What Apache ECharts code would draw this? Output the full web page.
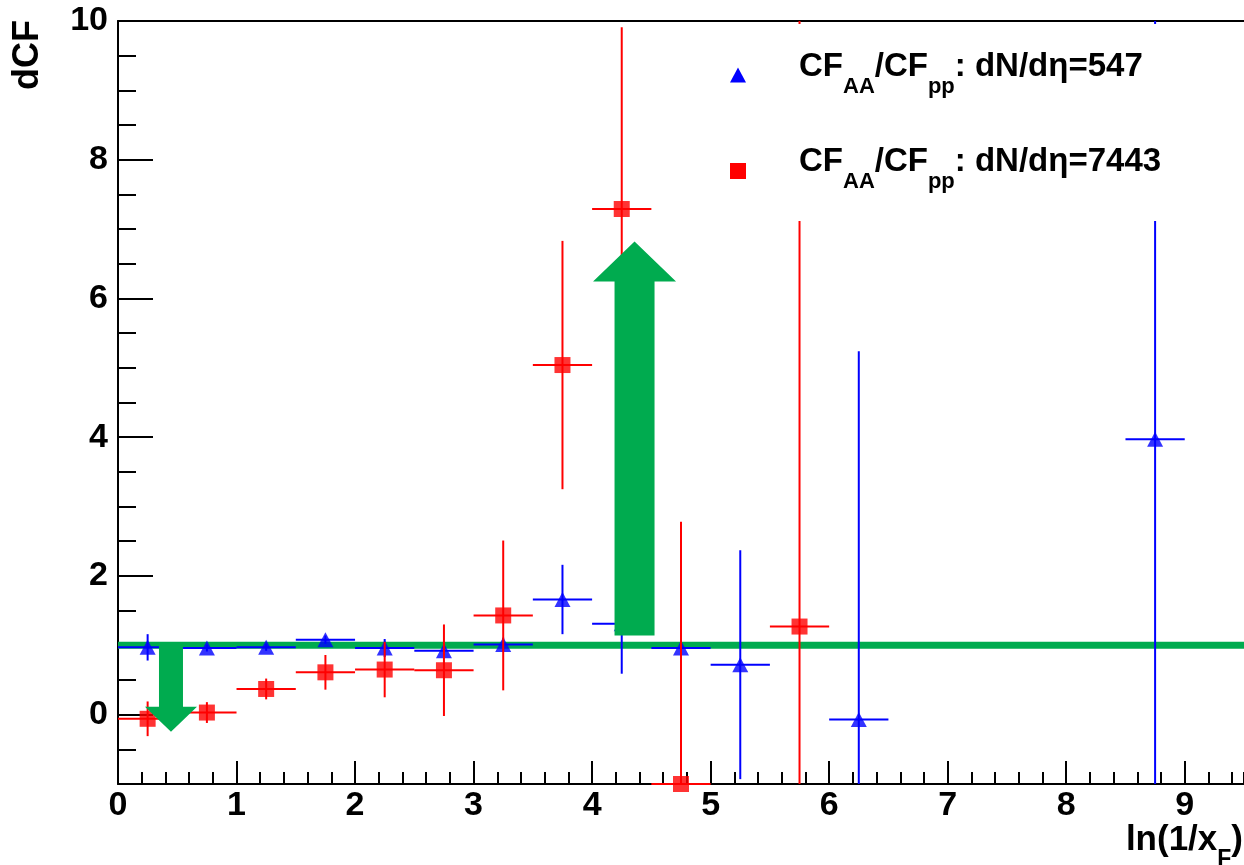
<!DOCTYPE html>
<html>
<head>
<meta charset="utf-8">
<script src="https://cdn.jsdelivr.net/npm/echarts@6/dist/echarts.min.js"></script>
<style>
  html, body { margin: 0; padding: 0; background: #ffffff; }
  #chart { width: 1244px; height: 865px; }
</style>
</head>
<body>
<div id="chart"></div>
<script>
// ---- data: double ratio of correlation functions vs ln(1/x_F) ----
const binHalfWidth = 0.25;

// CF_AA/CF_pp, dN/deta = 547
const xBlue   = [0.25, 0.75, 1.25, 1.75, 2.25, 2.75, 3.25, 3.75, 4.25, 4.75, 5.25, 6.25, 8.75];
const yBlue   = [0.97, 0.96, 0.97, 1.08, 0.96, 0.92, 1.01, 1.66, 1.31, 0.96, 0.72, -0.07, 3.97];
const errBlue = [0.19, 0.05, 0.05, 0.06, 0.13, 0.08, 0.10, 0.50, 0.72, 1.03, 1.65, 5.31, 7.00];

// CF_AA/CF_pp, dN/deta = 7443
const xRed   = [0.25, 0.75, 1.25, 1.75, 2.25, 2.75, 3.25, 3.75, 4.25, 4.75, 5.75];
const yRed   = [-0.06, 0.03, 0.37, 0.61, 0.65, 0.64, 1.43, 5.04, 7.29, -1.00, 1.27];
const errRed = [0.25, 0.15, 0.15, 0.25, 0.40, 0.66, 1.08, 1.79, 2.62, 3.78, 12.0];

// unit reference level
const referenceLevel = 1;

// trend arrows: x position, start value, tip value
const arrowX    = [0.447, 4.358];
const arrowFrom = [1.04, 1.14];
const arrowTo   = [-0.245, 6.82];

const yTickValues = [0, 2, 4, 6, 8, 10];
const legendNames = ['CF_AA/CF_pp: dN/dη=547', 'CF_AA/CF_pp: dN/dη=7443'];
const legendRich  = ['{m|CF}{s|AA}{m|/CF}{s|pp}{m|: dN/dη=547}', '{m|CF}{s|AA}{m|/CF}{s|pp}{m|: dN/dη=7443}'];

// ---- styling ----
const FONT = '"Liberation Sans", Arial, Helvetica, sans-serif';
const BLUE = '#0000ff';
const RED = '#ff0000';
const GREEN = '#00ab4f';
const ARROW_SIZES = [
  { shaft: 24, head: 52, headLength: 25 },
  { shaft: 40, head: 83, headLength: 40 }
];

const chart = echarts.init(document.getElementById('chart'), null, { renderer: 'canvas' });

function errorBars(xs, ys, errs, color, z) {
  return {
    type: 'custom',
    z: z,
    silent: true,
    encode: { x: 0, y: 1 },
    data: xs.map((x, i) => [x, ys[i], errs[i]]),
    renderItem: function (params, api) {
      const x = api.value(0), y = api.value(1), e = api.value(2);
      const cs = params.coordSys;
      const top = cs.y, bottom = cs.y + cs.height;
      const clampY = v => Math.max(top, Math.min(bottom, v));
      const c = api.coord([x, y]);
      const hi = api.coord([x, y + e])[1];
      const lo = api.coord([x, y - e])[1];
      const l = api.coord([x - binHalfWidth, y])[0];
      const r = api.coord([x + binHalfWidth, y])[0];
      const children = [{
        type: 'line',
        shape: { x1: c[0], y1: clampY(hi), x2: c[0], y2: clampY(lo) },
        style: { stroke: color, lineWidth: 2 }
      }];
      if (c[1] >= top - 1 && c[1] <= bottom + 1) {
        children.push({
          type: 'line',
          shape: { x1: l, y1: c[1], x2: r, y2: c[1] },
          style: { stroke: color, lineWidth: 2 }
        });
      }
      return { type: 'group', children: children };
    }
  };
}

const axisFont = { fontFamily: FONT, fontWeight: 'bold', fontSize: 34, color: '#000' };

const legendTextRich = {
  m: { fontFamily: FONT, fontWeight: 'bold', fontSize: 33, lineHeight: 33, fill: '#000' },
  s: { fontFamily: FONT, fontWeight: 'bold', fontSize: 22, lineHeight: 22, padding: [40, 0, 0, 0], fill: '#000' }
};

const option = {
  animation: false,
  backgroundColor: '#ffffff',
  grid: { left: 118, top: 21, width: 1127, height: 763, containLabel: false },
  xAxis: [
    {
      type: 'value', min: 0, max: 9.5, interval: 1, position: 'bottom',
      axisLine: { show: true, onZero: false, lineStyle: { color: '#000', width: 2 } },
      axisTick: { show: true, inside: true, length: 23, lineStyle: { color: '#000', width: 2 } },
      axisLabel: Object.assign({ margin: 5, showMaxLabel: false }, axisFont),
      splitLine: { show: false }
    },
    {
      type: 'value', min: 0, max: 9.5, interval: 0.2, position: 'bottom',
      axisLine: { show: false, onZero: false },
      axisTick: { show: true, inside: true, length: 12, lineStyle: { color: '#000', width: 2 } },
      axisLabel: { show: false },
      splitLine: { show: false }
    },
    {
      type: 'value', min: 0, max: 9.5, position: 'top',
      axisLine: { show: true, onZero: false, lineStyle: { color: '#000', width: 2 } },
      axisTick: { show: false },
      axisLabel: { show: false },
      splitLine: { show: false }
    }
  ],
  yAxis: [
    {
      type: 'value', min: -1, max: 10, position: 'left',
      axisLine: { show: true, onZero: false, lineStyle: { color: '#000', width: 2 } },
      axisTick: { show: true, inside: true, length: 35, customValues: yTickValues,
                  lineStyle: { color: '#000', width: 2 } },
      axisLabel: Object.assign({ margin: 10, customValues: yTickValues }, axisFont),
      splitLine: { show: false }
    },
    {
      type: 'value', min: -1, max: 10, interval: 0.5, position: 'left',
      axisLine: { show: false, onZero: false },
      axisTick: { show: true, inside: true, length: 18, lineStyle: { color: '#000', width: 2 } },
      axisLabel: { show: false },
      splitLine: { show: false }
    }
  ],
  series: [
    {
      type: 'line', name: 'reference', z: 1, silent: true,
      data: [[0, referenceLevel], [9.5, referenceLevel]],
      symbol: 'none',
      lineStyle: { color: GREEN, width: 7 }
    },
    errorBars(xBlue, yBlue, errBlue, BLUE, 2),
    {
      type: 'scatter', name: legendNames[0], z: 3, clip: false, silent: true,
      symbol: 'triangle', symbolSize: [16, 15],
      itemStyle: { color: BLUE },
      data: xBlue.map((x, i) => [x, yBlue[i]])
    },
    errorBars(xRed, yRed, errRed, RED, 4),
    {
      type: 'scatter', name: legendNames[1], z: 5, clip: false, silent: true,
      symbol: 'rect', symbolSize: 16,
      itemStyle: { color: RED },
      data: xRed.map((x, i) => [x, yRed[i]])
    },
    {
      type: 'custom', name: 'arrows', z: 6, silent: true,
      encode: { x: 0, y: 1 },
      data: arrowX.map((x, i) => [x, arrowFrom[i], arrowTo[i]]),
      renderItem: function (params, api) {
        const s = ARROW_SIZES[params.dataIndex];
        const x = api.value(0);
        const base = api.coord([x, api.value(1)]);
        const tip = api.coord([x, api.value(2)]);
        const dir = tip[1] < base[1] ? -1 : 1;
        const neck = tip[1] - dir * s.headLength;
        const cx = tip[0];
        return {
          type: 'polygon',
          shape: { points: [
            [cx - s.shaft / 2, base[1]], [cx - s.shaft / 2, neck], [cx - s.head / 2, neck],
            [cx, tip[1]],
            [cx + s.head / 2, neck], [cx + s.shaft / 2, neck], [cx + s.shaft / 2, base[1]]
          ] },
          style: { fill: GREEN }
        };
      }
    }
  ],
  graphic: {
    elements: [
      // legend box
      { type: 'rect', z: 20, silent: true,
        shape: { x: 690, y: 24, width: 560, height: 197 },
        style: { fill: '#ffffff' } },
      { type: 'polygon', z: 21, silent: true,
        shape: { points: [[730, 82.5], [746, 82.5], [738, 67.5]] },
        style: { fill: BLUE } },
      { type: 'rect', z: 21, silent: true,
        shape: { x: 730, y: 163, width: 16, height: 16 },
        style: { fill: RED } },
      { type: 'text', z: 21, silent: true, x: 799, y: 66.5,
        style: { text: legendRich[0], verticalAlign: 'middle', align: 'left', rich: legendTextRich } },
      { type: 'text', z: 21, silent: true, x: 799, y: 161.5,
        style: { text: legendRich[1], verticalAlign: 'middle', align: 'left', rich: legendTextRich } },
      // axis titles
      { type: 'text', z: 21, silent: true, x: 28, y: 55, rotation: Math.PI / 2,
        style: { text: 'dCF', font: 'bold 36px ' + FONT, fill: '#000', align: 'center', verticalAlign: 'middle' } },
      { type: 'text', z: 21, silent: true, x: 1243, y: 840,
        style: {
          text: '{m|ln(1/x}{s|F}{m|)}',
          align: 'right', verticalAlign: 'middle',
          rich: {
            m: { fontFamily: FONT, fontWeight: 'bold', fontSize: 35, lineHeight: 35, fill: '#000' },
            s: { fontFamily: FONT, fontWeight: 'bold', fontSize: 23, lineHeight: 23, padding: [40, 0, 0, 0], fill: '#000' }
          }
        } }
    ]
  }
};

chart.setOption(option);
</script>
</body>
</html>
